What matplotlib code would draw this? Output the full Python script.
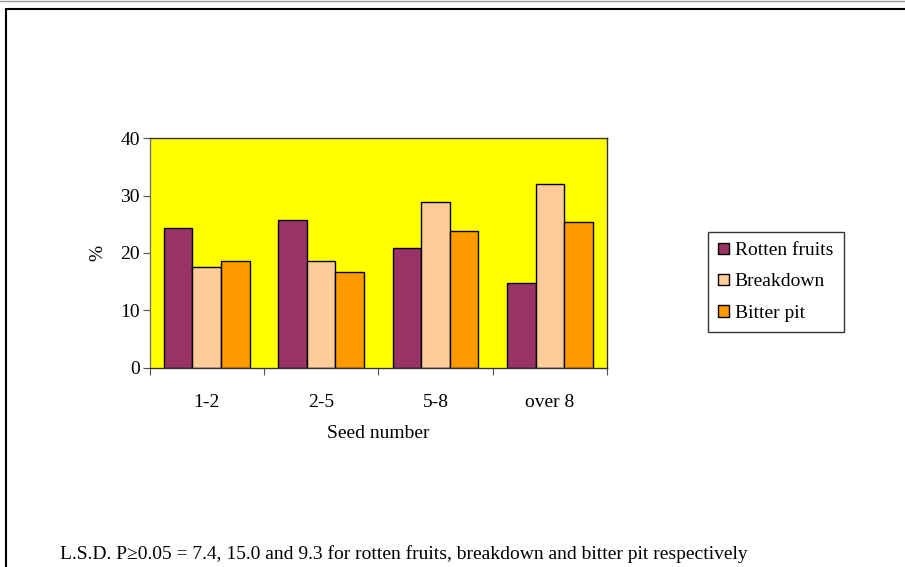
import numpy as np
import matplotlib.pyplot as plt
from matplotlib.patches import Rectangle
from matplotlib.lines import Line2D

plt.rcParams['font.family'] = ['Liberation Serif', 'DejaVu Serif']

categories = ['1-2', '2-5', '5-8', 'over 8']
rotten = [24.3, 25.7, 20.8, 14.8]
breakdown = [17.5, 18.5, 28.9, 32.1]
bitter = [18.5, 16.6, 23.9, 25.4]
series = [('Rotten fruits', rotten, '#993366'),
          ('Breakdown', breakdown, '#FFCC99'),
          ('Bitter pit', bitter, '#FF9900')]

fig = plt.figure(figsize=(9.05, 5.67), dpi=100)
ax = fig.add_axes([149.5/905, 1-367.5/567, (607-149.5)/905, (367.5-138.3)/567])
ax.set_facecolor('#FFFF00')

x = np.arange(len(categories))
w = 0.25
for i, (name, vals, col) in enumerate(series):
    ax.bar(x + (i-1)*w, vals, w, color=col, edgecolor='black', linewidth=1.0, label=name)

ax.set_xlim(-0.5, len(categories)-0.5)
ax.set_ylim(0, 40)
ax.set_yticks([0, 10, 20, 30, 40])
ax.set_xticks(np.arange(len(categories)+1) - 0.5)
ax.set_xticklabels([])
ax.set_xticks(x, minor=True)
ax.set_xticklabels(categories, minor=True)
ax.tick_params(axis='x', which='minor', length=0, pad=19, labelsize=14)
ax.tick_params(axis='x', which='major', length=5, direction='out', color='#555555')
ax.tick_params(axis='y', length=5, direction='out', color='#555555', labelsize=14, pad=2)
for s in ax.spines.values():
    s.set_color('#333333')
    s.set_linewidth(1.0)
ax.spines['left'].set_color('#777777')

ax.set_xlabel('Seed number', fontsize=14, va='center')
ax.xaxis.set_label_coords(0.5, (367.5-434)/229.2)
ax.set_ylabel('%', fontsize=14, va='center')
ax.yaxis.set_label_coords((98-149.5)/457.5, 0.5)

leg = ax.legend(loc='center left', bbox_to_anchor=(708/905, 1-282/567),
                bbox_transform=fig.transFigure, fontsize=14, frameon=True,
                fancybox=False, edgecolor='black', handlelength=0.55,
                handleheight=0.55, handletextpad=0.3, borderpad=0.53,
                labelspacing=0.73, borderaxespad=0)
leg.get_frame().set_linewidth(1.0)

fig.text(60/905, 1-559/567, 'L.S.D. P\u22650.05 = 7.4, 15.0 and 9.3 for rotten fruits, breakdown and bitter pit respectively',
         fontsize=14, va='baseline', ha='left')

# outer chart border
fig.patches.append(Rectangle((6/905, -0.1), 1.0, 1-9/567+0.1, transform=fig.transFigure,
                             fill=False, edgecolor='black', linewidth=1.5))
fig.lines.append(Line2D([0, 1], [1-0.5/567, 1-0.5/567], transform=fig.transFigure,
                        color='#999999', linewidth=1))

fig.savefig('out.png', dpi=100)
